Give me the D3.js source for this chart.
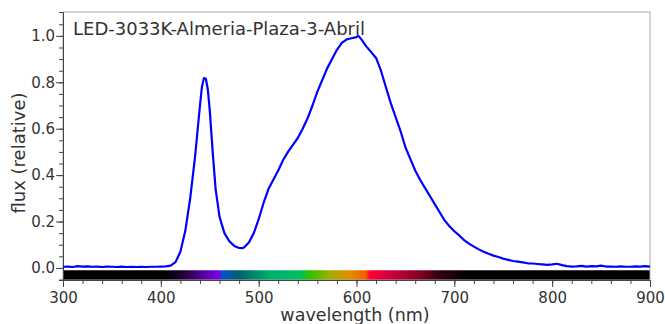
<!DOCTYPE html>
<html>
<head>
<meta charset="utf-8">
<script src="https://cdn.jsdelivr.net/npm/d3@7"></script>
<style>
  body { margin: 0; background: #fff; }
  text { font-family: "DejaVu Sans", Verdana, sans-serif; fill: #333; }
</style>
</head>
<body>
<div id="chart"></div>
<script>
// spectrum
var title = "LED-3033K-Almeria-Plaza-3-Abril";
var wavelength = [300,305,310,315,320,325,330,335,340,345,350,355,360,365,370,375,380,385,390,395,
  400,405,410,415,420,425,430,435,440,442,444,446,448,450,453,456,460,465,470,475,480,483,485,490,495,
  500,505,510,515,520,525,530,535,540,545,550,555,560,565,570,575,580,585,590,595,600,602,605,610,
  615,620,625,630,635,640,645,650,655,660,665,670,675,680,685,690,695,700,705,710,715,720,725,730,
  735,740,745,750,755,760,765,770,775,780,785,790,795,800,805,810,815,820,825,830,835,840,845,850,
  855,860,865,870,875,880,885,890,895,900];
var flux = [0.005,0.006,0.004,0.008,0.006,0.007,0.005,0.006,0.004,0.006,0.005,0.004,0.006,0.004,0.005,0.004,0.005,0.004,0.005,0.005,
  0.006,0.007,0.010,0.025,0.07,0.16,0.30,0.48,0.70,0.78,0.818,0.815,0.77,0.68,0.50,0.34,0.22,0.15,0.115,0.095,0.086,0.085,0.088,0.11,0.15,
  0.21,0.28,0.34,0.38,0.42,0.465,0.50,0.53,0.56,0.60,0.645,0.70,0.76,0.81,0.86,0.90,0.94,0.97,0.985,0.99,0.995,1.0,0.985,0.955,
  0.93,0.905,0.85,0.78,0.71,0.65,0.59,0.52,0.47,0.42,0.38,0.345,0.31,0.275,0.24,0.205,0.18,0.158,0.14,0.12,0.105,0.092,0.08,0.07,
  0.061,0.053,0.047,0.04,0.035,0.03,0.027,0.024,0.02,0.019,0.017,0.015,0.013,0.015,0.018,0.012,0.008,0.006,0.007,0.009,0.006,0.008,0.007,0.010,
  0.006,0.006,0.005,0.007,0.005,0.005,0.007,0.006,0.008,0.006];
var xTicks = [300,400,500,600,700,800,900];
var yTicks = [0.0,0.2,0.4,0.6,0.8,1.0];

// colour band under the curve
var bandNm =    [300,   405,      425,      445,      460,      462,      481,      512,      542,      552,      573,      593,      609,      614,      634,      665,      685,      716,      900];
var bandColor = ["#000","#000","#25003f","#5a00a8","#8000e0","#0050d8","#006468","#00b070","#00c060","#30c000","#a0b000","#e09000","#f06000","#ff0030","#d00040","#800020","#300010","#000","#000"];

var W = 665, H = 324;
var margin = {top: 12, right: 15, bottom: 44, left: 63};

var svg = d3.select("#chart").append("svg")
    .attr("width", W)
    .attr("height", H);

var x = d3.scaleLinear().domain([300, 900]).range([margin.left, W - margin.right]);
var y = d3.scaleLinear().domain([-0.052, 1.103]).range([H - margin.bottom, margin.top]);

// gradient for the band
var grad = svg.append("defs").append("linearGradient")
    .attr("id", "spec")
    .attr("x1", "0%").attr("x2", "100%").attr("y1", "0%").attr("y2", "0%");
grad.selectAll("stop")
    .data(bandNm)
    .enter().append("stop")
    .attr("offset", function(d) { return ((d - 300) / 600 * 100) + "%"; })
    .attr("stop-color", function(d, i) { return bandColor[i]; });

svg.append("rect")
    .attr("x", x(300))
    .attr("y", y(-0.01))
    .attr("width", x(900) - x(300))
    .attr("height", y(-0.052) - y(-0.01))
    .attr("fill", "url(#spec)");

// frame
svg.append("rect")
    .attr("x", x(300)).attr("y", y(1.103))
    .attr("width", x(900) - x(300))
    .attr("height", y(-0.052) - y(1.103))
    .attr("fill", "none")
    .attr("stroke", "#aaa");

// axes
var xAxis = svg.append("g").attr("transform", "translate(0," + y(-0.052) + ")");
xAxis.call(d3.axisBottom(x).tickValues(d3.range(300, 901, 20)).tickFormat("").tickSize(4));
xAxis.selectAll(".tick line").attr("stroke", "#444");
xAxis.select(".domain").attr("stroke", "#444");
var xMajor = svg.append("g").attr("transform", "translate(0," + y(-0.052) + ")");
xMajor.call(d3.axisBottom(x).tickValues(xTicks).tickFormat(d3.format("d")).tickSize(7));
xMajor.select(".domain").remove();
xMajor.selectAll(".tick line").attr("stroke", "#444");
xMajor.selectAll(".tick text").attr("font-size", 15).attr("y", 9).attr("dy", "0.9em").attr("fill", "#333");

var yAxis = svg.append("g").attr("transform", "translate(" + x(300) + ",0)");
yAxis.call(d3.axisLeft(y).tickValues(d3.range(-0.05, 1.1, 0.05)).tickFormat("").tickSize(4));
yAxis.selectAll(".tick line").attr("stroke", "#444");
yAxis.select(".domain").attr("stroke", "#444");
var yMajor = svg.append("g").attr("transform", "translate(" + x(300) + ",0)");
yMajor.call(d3.axisLeft(y).tickValues(yTicks).tickFormat(d3.format(".1f")).tickSize(7));
yMajor.select(".domain").remove();
yMajor.selectAll(".tick line").attr("stroke", "#444");
yMajor.selectAll(".tick text").attr("font-size", 15).attr("fill", "#333").attr("x", -8);

// spectrum line
var pts = wavelength.map(function(w, i) { return [w, flux[i]]; });
svg.append("path")
    .datum(pts)
    .attr("fill", "none")
    .attr("stroke", "#0000ff")
    .attr("stroke-width", 2.2)
    .attr("stroke-linejoin", "round")
    .attr("d", d3.line()
        .x(function(d) { return x(d[0]); })
        .y(function(d) { return y(d[1]); }));

// labels
svg.append("text")
    .attr("x", 73).attr("y", 35)
    .attr("font-size", 18)
    .text(title);

svg.append("text")
    .attr("x", 355).attr("y", 321)
    .attr("text-anchor", "middle")
    .attr("font-size", 17.5)
    .text("wavelength (nm)");

svg.append("text")
    .attr("transform", "translate(25,153) rotate(-90)")
    .attr("text-anchor", "middle")
    .attr("font-size", 18)
    .text("flux (relative)");
</script>
</body>
</html>
